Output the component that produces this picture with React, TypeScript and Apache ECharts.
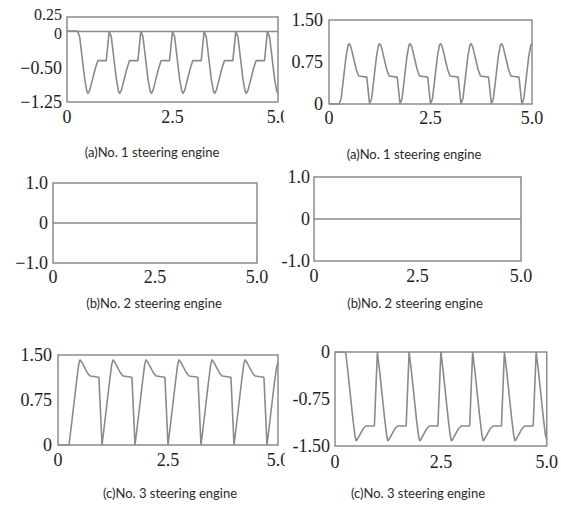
import React, { useEffect, useRef } from "react";
import * as echarts from "echarts";

// time axis (s), shared by the periodic traces
const TIMES = [
  0,
  0.25, 0.3, 0.42, 0.47, 0.5, 0.54, 0.67, 0.73, 0.93,
  1.0, 1.05, 1.17, 1.22, 1.25, 1.29, 1.42, 1.48, 1.68,
  1.75, 1.8, 1.92, 1.97, 2.0, 2.04, 2.17, 2.23, 2.43,
  2.5, 2.55, 2.67, 2.72, 2.75, 2.79, 2.92, 2.98, 3.18,
  3.25, 3.3, 3.42, 3.47, 3.5, 3.54, 3.67, 3.73, 3.93,
  4.0, 4.05, 4.17, 4.22, 4.25, 4.29, 4.42, 4.48, 4.68,
  4.75, 4.8, 4.92, 4.97, 5.0,
];

// (a) No.1 steering engine, left panel
const NO1_LEFT = [
  0,
  0, -0.1, -0.85, -1.06, -1.1, -1.04, -0.66, -0.52, -0.52,
  0, -0.1, -0.85, -1.06, -1.1, -1.04, -0.66, -0.52, -0.52,
  0, -0.1, -0.85, -1.06, -1.1, -1.04, -0.66, -0.52, -0.52,
  0, -0.1, -0.85, -1.06, -1.1, -1.04, -0.66, -0.52, -0.52,
  0, -0.1, -0.85, -1.06, -1.1, -1.04, -0.66, -0.52, -0.52,
  0, -0.1, -0.85, -1.06, -1.1, -1.04, -0.66, -0.52, -0.52,
  0, -0.1, -0.85, -1.06, -1.1,
];

// (a) No.1 steering engine, right panel
const NO1_RIGHT = [
  0,
  0, 0.1, 0.85, 1.05, 1.08, 1.02, 0.62, 0.5, 0.48,
  0, 0.1, 0.85, 1.05, 1.08, 1.02, 0.62, 0.5, 0.48,
  0, 0.1, 0.85, 1.05, 1.08, 1.02, 0.62, 0.5, 0.48,
  0, 0.1, 0.85, 1.05, 1.08, 1.02, 0.62, 0.5, 0.48,
  0, 0.1, 0.85, 1.05, 1.08, 1.02, 0.62, 0.5, 0.48,
  0, 0.1, 0.85, 1.05, 1.08, 1.02, 0.62, 0.5, 0.48,
  0, 0.1, 0.85, 1.05, 1.08,
];

// (b) No.2 steering engine: flat at zero
const NO2_TIMES = [0, 5];
const NO2_LEFT = [0, 0];
const NO2_RIGHT = [0, 0];

// (c) No.3 steering engine, left panel
const NO3_LEFT = [
  0,
  0, 0.3, 1.05, 1.34, 1.42, 1.38, 1.2, 1.15, 1.13,
  0, 0.3, 1.05, 1.34, 1.42, 1.38, 1.2, 1.15, 1.13,
  0, 0.3, 1.05, 1.34, 1.42, 1.38, 1.2, 1.15, 1.13,
  0, 0.3, 1.05, 1.34, 1.42, 1.38, 1.2, 1.15, 1.13,
  0, 0.3, 1.05, 1.34, 1.42, 1.38, 1.2, 1.15, 1.13,
  0, 0.3, 1.05, 1.34, 1.42, 1.38, 1.2, 1.15, 1.13,
  0, 0.3, 1.05, 1.3, 1.38,
];

// (c) No.3 steering engine, right panel
const NO3_RIGHT = [
  0,
  0, -0.28, -1.05, -1.33, -1.42, -1.38, -1.22, -1.18, -1.18,
  0, -0.28, -1.05, -1.33, -1.42, -1.38, -1.22, -1.18, -1.18,
  0, -0.28, -1.05, -1.33, -1.42, -1.38, -1.22, -1.18, -1.18,
  0, -0.28, -1.05, -1.33, -1.42, -1.38, -1.22, -1.18, -1.18,
  0, -0.28, -1.05, -1.33, -1.42, -1.38, -1.22, -1.18, -1.18,
  0, -0.28, -1.05, -1.33, -1.42, -1.38, -1.22, -1.18, -1.18,
  0, -0.28, -1.05, -1.33, -1.4,
];

// tick labels
const X_TICKS = [0, 2.5, 5];
const X_TEXT = ["0", "2.5", "5.0"];
const Y1_TICKS = [0.25, -0.5, -1.25];
const Y1_TEXT = ["0.25", "−0.50", "−1.25"];
const Y1_ZERO_TICKS = [0];
const Y1_ZERO_TEXT = ["0"];
const Y2_TICKS = [1.5, 0.75, 0];
const Y2_TEXT = ["1.50", "0.75", "0"];
const Y3_TICKS = [1, 0, -1];
const Y3_TEXT = ["1.0", "0", "−1.0"];
const Y4_TEXT = ["1.0", "0", "-1.0"];
const Y5_TEXT = ["1.50", "0.75", "0"];
const Y6_TICKS = [0, -0.75, -1.5];
const Y6_TEXT = ["0", "-0.75", "-1.50"];

const CAPTIONS = [
  "(a)No. 1 steering engine",
  "(a)No. 1 steering engine",
  "(b)No. 2 steering engine",
  "(b)No. 2 steering engine",
  "(c)No. 3 steering engine",
  "(c)No. 3 steering engine",
];

const LINE = "#8a8a8a";
const BOX = "#8c8c8c";
const TXT = "#222";
const SERIF = "'Liberation Serif', 'DejaVu Serif', serif";

function lookup(ticks: number[], texts: string[]) {
  return (v: number) => {
    const i = ticks.findIndex((t) => Math.abs(t - v) < 1e-6);
    return i >= 0 ? texts[i] : "";
  };
}

function pairs(ts: number[], vs: number[]) {
  return ts.map((t, i) => [t, vs[i]]);
}

export default function App() {
  const ref = useRef<HTMLDivElement>(null);

  useEffect(() => {
    if (!ref.current) return;
    const chart = echarts.init(ref.current, undefined, { renderer: "svg" });

    const grids = [
      { left: 67, top: 17, width: 211, height: 85 },
      { left: 329, top: 20, width: 203, height: 84 },
      { left: 53, top: 183, width: 204, height: 80 },
      { left: 314, top: 177, width: 207, height: 84 },
      { left: 58, top: 355, width: 220, height: 90 },
      { left: 335, top: 352, width: 220, height: 94 },
    ];

    const xMargins = [6, 5, 5, 6, 6, 7];

    const yDefs = [
      { grid: 0, min: -1.25, max: 0.25, interval: 0.25, ticks: Y1_TICKS, fmt: lookup(Y1_TICKS, Y1_TEXT), margin: 5 },
      { grid: 1, min: 0, max: 1.5, interval: 0.75, ticks: Y2_TICKS, fmt: lookup(Y2_TICKS, Y2_TEXT), margin: 6 },
      { grid: 2, min: -1, max: 1, interval: 1, ticks: Y3_TICKS, fmt: lookup(Y3_TICKS, Y3_TEXT), margin: 5 },
      { grid: 3, min: -1, max: 1, interval: 1, ticks: Y3_TICKS, fmt: lookup(Y3_TICKS, Y4_TEXT), margin: 4 },
      { grid: 4, min: 0, max: 1.5, interval: 0.75, ticks: Y2_TICKS, fmt: lookup(Y2_TICKS, Y5_TEXT), margin: 6 },
      { grid: 5, min: -1.5, max: 0, interval: 0.75, ticks: Y6_TICKS, fmt: lookup(Y6_TICKS, Y6_TEXT), margin: 5 },
      { grid: 0, min: -1.25, max: 0.25, interval: 0.25, ticks: Y1_ZERO_TICKS, fmt: lookup(Y1_ZERO_TICKS, Y1_ZERO_TEXT), margin: 5 },
    ];

    const seriesData = [
      pairs(TIMES, NO1_LEFT),
      pairs(TIMES, NO1_RIGHT),
      pairs(NO2_TIMES, NO2_LEFT),
      pairs(NO2_TIMES, NO2_RIGHT),
      pairs(TIMES, NO3_LEFT),
      pairs(TIMES, NO3_RIGHT),
    ];

    const xfmt = lookup(X_TICKS, X_TEXT);

    const captionPos = [
      [152, 152],
      [414, 154],
      [154, 303],
      [415, 303],
      [170, 493],
      [418, 493],
    ];

    const rich = {
      low: { fontFamily: SERIF, fontSize: 18, color: TXT, padding: [16, 0, 0, 0] },
      up: { fontFamily: SERIF, fontSize: 16, color: TXT, padding: [0, 0, 6, 0] },
      down: { fontFamily: SERIF, fontSize: 16, color: TXT, padding: [4, 0, 0, 0] },
    };

    const option: any = {
      animation: false,
      backgroundColor: "#fff",
      grid: grids.map((g) => ({
        ...g,
        show: true,
        borderColor: BOX,
        borderWidth: 1.5,
        backgroundColor: "transparent",
        containLabel: false,
      })),
      xAxis: grids.map((_, i) => ({
        type: "value",
        gridIndex: i,
        min: 0,
        max: 5,
        interval: 2.5,
        axisLine: { show: false },
        axisTick: { show: false },
        splitLine: { show: false },
        axisLabel: {
          formatter: xfmt,
          fontFamily: SERIF,
          fontSize: 18,
          color: TXT,
          margin: xMargins[i],
          hideOverlap: false,
          showMinLabel: true,
          showMaxLabel: true,
        },
      })),
      yAxis: yDefs.map((d, i) => ({
        type: "value",
        gridIndex: d.grid,
        position: "left",
        offset: 0,
        min: d.min,
        max: d.max,
        interval: d.interval,
        axisLine: { show: false },
        axisTick: { show: false },
        splitLine: { show: false },
        axisLabel: {
          customValues: d.ticks,
          formatter: (v: number) => {
            const s = d.fmt(v);
            if (i === 0 && Math.abs(v + 0.5) < 1e-6) return "{low|" + s + "}";
            if (i === 0 && Math.abs(v - 0.25) < 1e-6) return "{up|" + s + "}";
            if (i === 6) return "{down|" + s + "}";
            return s;
          },
          rich,
          fontFamily: SERIF,
          fontSize: 18,
          color: TXT,
          margin: d.margin,
          hideOverlap: false,
          showMinLabel: true,
          showMaxLabel: true,
        },
      })),
      series: seriesData.map((data, i) => ({
        type: "line",
        xAxisIndex: i,
        yAxisIndex: i,
        data,
        showSymbol: false,
        symbol: "none",
        lineStyle: { color: LINE, width: 1.6 },
        markLine:
          i === 0
            ? {
                silent: true,
                symbol: "none",
                label: { show: false },
                lineStyle: { color: LINE, width: 1.4, type: "solid" },
                data: [{ yAxis: 0 }],
              }
            : undefined,
      })),
      graphic: [
        {
          type: "rect",
          left: 284,
          top: 106,
          shape: { width: 22, height: 24 },
          style: { fill: "#fff" },
          z: 100,
        },
        {
          type: "rect",
          left: 285,
          top: 448,
          shape: { width: 5, height: 24 },
          style: { fill: "#fff" },
          z: 100,
        },
        ...CAPTIONS.map((c, i) => ({
          type: "text",
          x: captionPos[i][0],
          y: captionPos[i][1],
          style: {
            text: c,
            fontFamily: "Lato, 'Open Sans', sans-serif",
            fontSize: 13,
            fill: "#2a2a2a",
            textAlign: "center",
            textVerticalAlign: "middle",
          },
          z: 101,
        })),
      ],
    };

    chart.setOption(option);
    return () => chart.dispose();
  }, []);

  return (
    <div
      ref={ref}
      style={{ position: "absolute", left: 0, top: 0, width: 561, height: 505 }}
    />
  );
}
